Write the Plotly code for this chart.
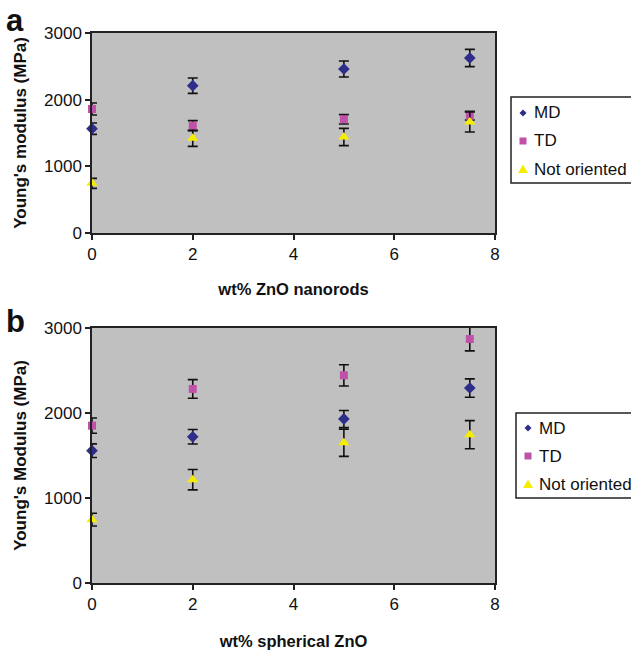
import plotly.graph_objects as go

# ---- data ----
x_vals = [0, 2, 5, 7.5]

# Panel a: ZnO nanorods
a_md = [1565, 2210, 2460, 2625]
a_md_err = [85, 115, 120, 130]
a_td = [1860, 1610, 1705, 1760]
a_td_err = [90, 75, 70, 65]
a_no = [745, 1420, 1440, 1665]
a_no_err = [75, 120, 130, 150]

# Panel b: spherical ZnO
b_md = [1557, 1720, 1930, 2294]
b_md_err = [80, 85, 100, 108]
b_td = [1851, 2283, 2443, 2871]
b_td_err = [90, 110, 125, 140]
b_no = [745, 1216, 1650, 1745]
b_no_err = [75, 120, 160, 165]

series_names = ["MD", "TD", "Not oriented"]
x_ticks = [0, 2, 4, 6, 8]
y_ticks = [0, 1000, 2000, 3000]

colors = {"MD": "#2E2E8A", "TD": "#C050A8", "Not oriented": "#F5EE00"}
symbols = {"MD": "diamond", "TD": "square", "Not oriented": "triangle-up"}
sizes = {"MD": 9, "TD": 8, "Not oriented": 10}

W, H = 631, 651
FONT = "Liberation Sans, Arial, sans-serif"
INK = "#111111"


def px_x(p):
    return p / W


def px_y(p):
    return (H - p) / H


fig = go.Figure()

panels = [
    ("x", "y", [a_md, a_td, a_no], [a_md_err, a_td_err, a_no_err]),
    ("x2", "y2", [b_md, b_td, b_no], [b_md_err, b_td_err, b_no_err]),
]
for xa, ya, vals, errs in panels:
    for name, v, e in zip(series_names, vals, errs):
        fig.add_trace(go.Scatter(
            x=x_vals, y=v, mode="markers", name=name, showlegend=False,
            xaxis=xa, yaxis=ya,
            marker=dict(symbol=symbols[name], color=colors[name], size=sizes[name],
                        line=dict(width=0)),
            error_y=dict(type="data", array=e, visible=True, color=INK,
                         thickness=1.6, width=5),
            cliponaxis=False,
        ))

x_dom = [px_x(92), px_x(495)]
axis_common = dict(
    showline=True, linecolor="#222222", linewidth=1.5, mirror=True,
    ticks="outside", ticklen=5, tickwidth=1.5, tickcolor="#222222",
    showgrid=False, zeroline=False,
    tickfont=dict(family=FONT, size=17, color=INK),
)

shapes = []
annotations = []

# ---- manual legends (box, symbols, labels) ----
legend_specs = [
    # box left, box top, box bottom, symbol x, text x, row centres
    (511, 97, 183, 523, 532, [113, 141, 169]),
    (516, 413, 498, 528, 537, [428, 456, 484]),
]
for bx, bt, bb, sx, tx, rows in legend_specs:
    shapes.append(dict(type="rect", xref="paper", yref="paper",
                       x0=px_x(bx), x1=px_x(bx + 140), y0=px_y(bb), y1=px_y(bt),
                       fillcolor="white", line=dict(color="#222222", width=1.5),
                       layer="above"))
    for name, cy in zip(series_names, rows):
        s = 3.5
        if name == "MD":
            path = (f"M {px_x(sx)},{px_y(cy - s)} L {px_x(sx + s)},{px_y(cy)} "
                    f"L {px_x(sx)},{px_y(cy + s)} L {px_x(sx - s)},{px_y(cy)} Z")
        elif name == "TD":
            path = (f"M {px_x(sx - s)},{px_y(cy - s)} L {px_x(sx + s)},{px_y(cy - s)} "
                    f"L {px_x(sx + s)},{px_y(cy + s)} L {px_x(sx - s)},{px_y(cy + s)} Z")
        else:
            path = (f"M {px_x(sx)},{px_y(cy - 4.5)} L {px_x(sx + 5)},{px_y(cy + 4)} "
                    f"L {px_x(sx - 5)},{px_y(cy + 4)} Z")
        shapes.append(dict(type="path", xref="paper", yref="paper", path=path,
                           fillcolor=colors[name], line=dict(width=0), layer="above"))
        annotations.append(dict(text=name, x=px_x(tx), y=px_y(cy), xref="paper", yref="paper",
                                xanchor="left", yanchor="middle", showarrow=False,
                                font=dict(family=FONT, size=17, color=INK)))

# panel letters
annotations.append(dict(text="<b>a</b>", x=px_x(4), y=px_y(20), xref="paper", yref="paper",
                        xanchor="left", yanchor="middle", showarrow=False,
                        font=dict(family=FONT, size=31, color=INK)))
annotations.append(dict(text="<b>b</b>", x=px_x(4), y=px_y(321), xref="paper", yref="paper",
                        xanchor="left", yanchor="middle", showarrow=False,
                        font=dict(family=FONT, size=31, color=INK)))

fig.update_layout(
    width=W, height=H,
    margin=dict(l=0, r=0, t=0, b=0, autoexpand=False),
    paper_bgcolor="white",
    plot_bgcolor="#C0C0C0",
    font=dict(family=FONT, color=INK),
    showlegend=False,
    xaxis=dict(domain=x_dom, anchor="y", range=[0, 8], tickvals=x_ticks, **axis_common,
               title=dict(text="<b>wt% ZnO nanorods</b>", font=dict(size=16.5), standoff=20)),
    yaxis=dict(domain=[px_y(233), px_y(33)], anchor="x", range=[0, 3000], tickvals=y_ticks,
               **axis_common,
               title=dict(text="<b>Young's modulus (MPa)</b>", font=dict(size=17), standoff=13)),
    xaxis2=dict(domain=x_dom, anchor="y2", range=[0, 8], tickvals=x_ticks, **axis_common,
                title=dict(text="<b>wt% spherical ZnO</b>", font=dict(size=16.5), standoff=22)),
    yaxis2=dict(domain=[px_y(583), px_y(328)], anchor="x2", range=[0, 3000], tickvals=y_ticks,
                **axis_common,
                title=dict(text="<b>Young's Modulus (MPa)</b>", font=dict(size=17), standoff=13)),
    shapes=shapes,
    annotations=annotations,
)

fig.write_html("out.html", config={"displayModeBar": False},
               post_script="document.body.style.margin='0px';")
